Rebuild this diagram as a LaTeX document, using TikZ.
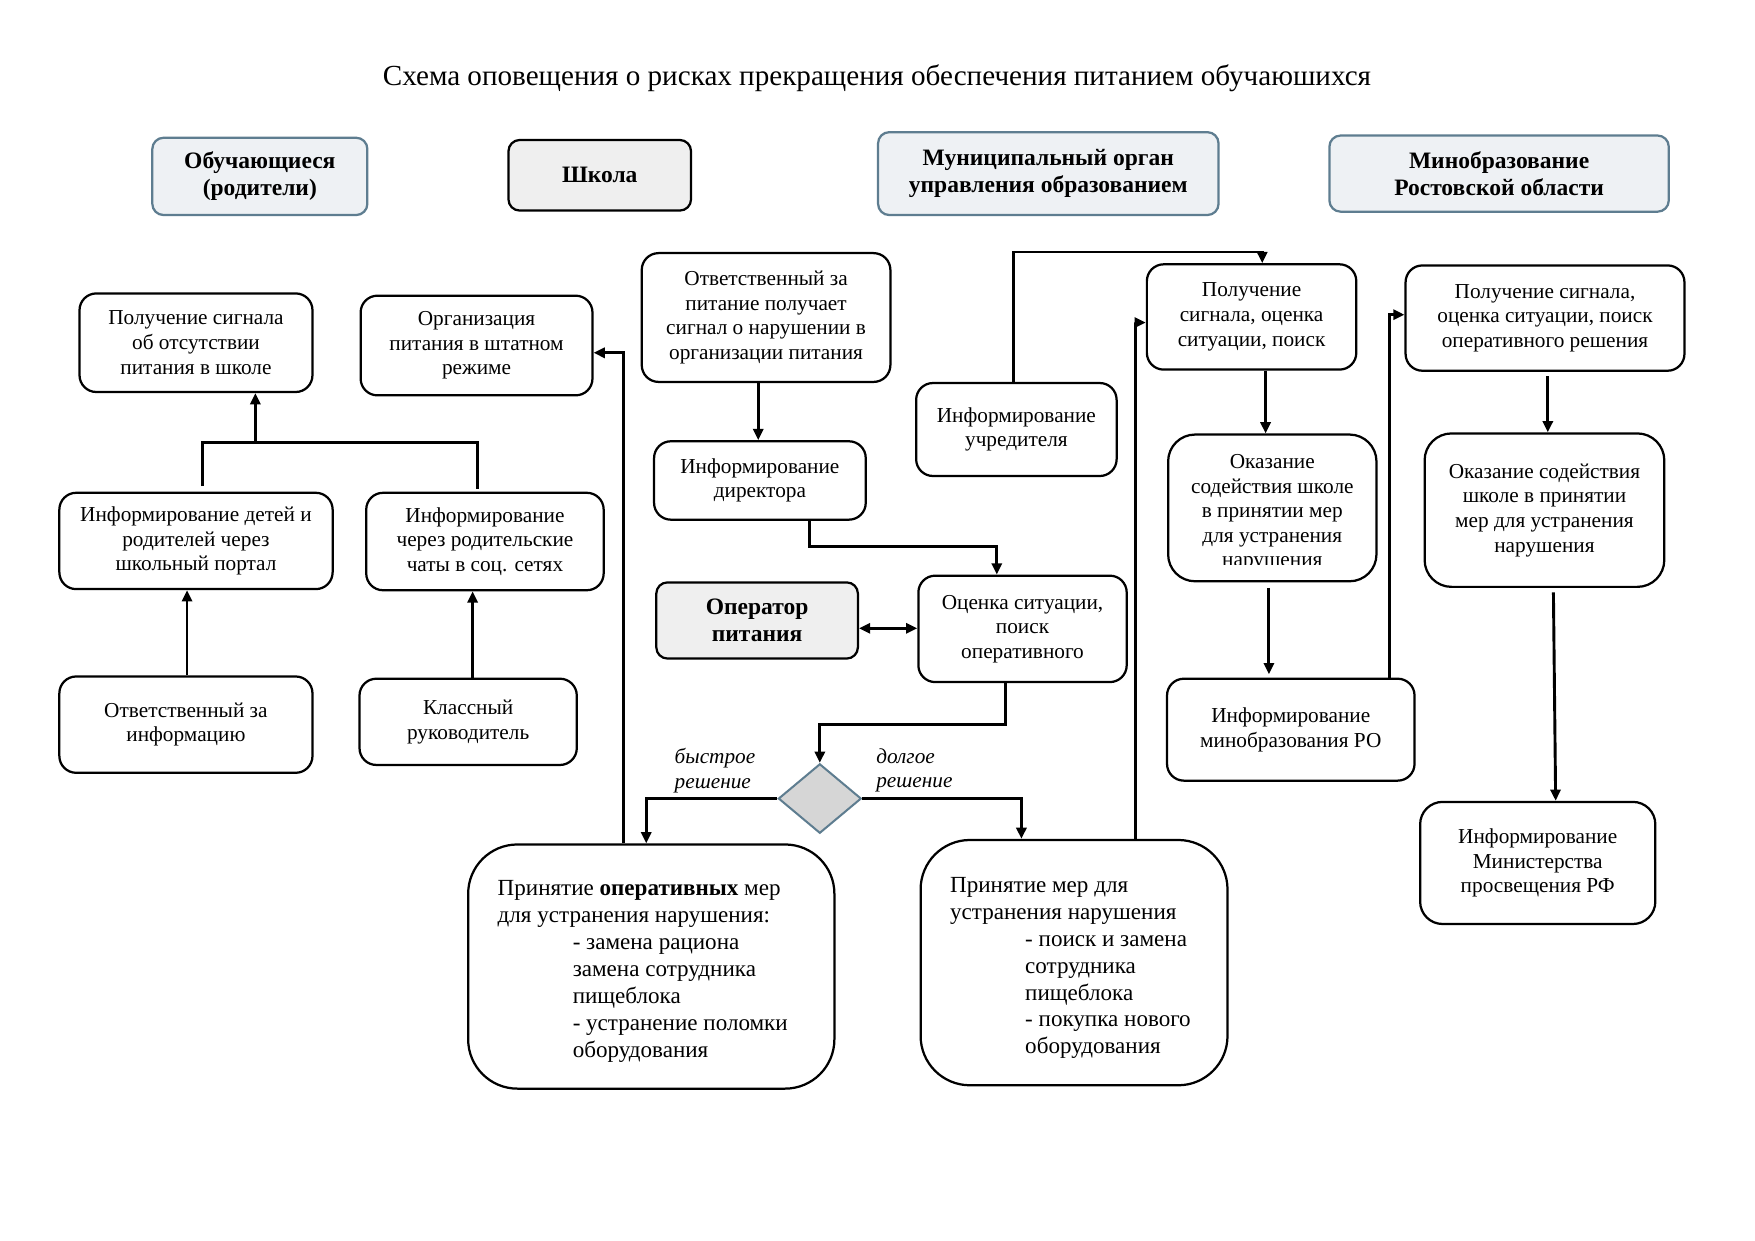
\documentclass[tikz,border=0pt]{standalone}
\usepackage{fontspec}
\setmainfont{Liberation Serif}
\usetikzlibrary{arrows.meta,shapes.geometric,calc}
\definecolor{hdrfill}{HTML}{EEF1F4}
\definecolor{hdrline}{HTML}{5E7D90}
\definecolor{grayfill}{HTML}{EFEFEF}
\definecolor{dmfill}{HTML}{D6D6D6}
\newcommand\bx[7][]{\node[box,#1,minimum width={(#5-#3)*0.5pt},minimum height={(#6-#4)*0.5pt}] (#2) at ({(#3+#5)/2},{(#4+#6)/2}) {#7};}
\begin{document}
\begin{tikzpicture}[x=0.5pt,y=-0.5pt,
  box/.style={draw, line width=1pt, rounded corners=7.5pt, align=center, inner sep=0pt, font=\fontsize{9.5}{11}\selectfont},
  hdr/.style={draw=hdrline, fill=hdrfill, rounded corners=5pt, font=\bfseries\fontsize{10.5}{12}\selectfont},
  gry/.style={draw=black, fill=grayfill, rounded corners=5pt, font=\bfseries\fontsize{10.5}{12}\selectfont},
  big/.style={rounded corners=22pt},
  txt/.style={inner sep=0pt, align=left, font=\fontsize{10.3}{12}\selectfont},
  lbl/.style={inner sep=0pt, align=left, font=\itshape\fontsize{9.5}{11}\selectfont},
  conn/.style={line width=1.3pt},
  tip/.tip={Triangle[length=5pt,width=4.5pt]},
  arr/.style={conn, -tip},
]
\useasboundingbox[fill=white] (0,0) rectangle (1567,1108);

\node[font=\fontsize{13}{15}\selectfont] (title) at (783,70) {Схема оповещения о рисках прекращения обеспечения питанием обучаюшихся};

% headers
\bx[hdr]{H1}{136}{123}{328}{192}{Обучающиеся\\(родители)}
\bx[gry]{H2}{454}{125}{617}{188}{Школа}
\bx[hdr]{H3}{784}{118}{1088}{192}{Муниципальный орган\\управления образованием}
\bx[hdr]{H4}{1187}{121}{1490}{189}{Минобразование\\Ростовской области}

% left column
\bx{A1}{71}{262}{279}{350}{Получение сигнала\\об отсутствии\\питания в школе}
\bx{A2}{322}{264}{529}{353}{Организация\\питания в штатном\\режиме}
\bx{B1}{53}{440}{297}{526}{Информирование детей и\\родителей через\\школьный портал}
\bx{B2}{327}{440}{539}{527}{Информирование\\через родительские\\чаты в соц. сетях}
\bx{C1}{53}{604}{279}{690}{Ответственный за\\информацию}
\bx{C2}{321}{606}{515}{683}{Классный\\руководитель}

% school column
\bx{M1}{573}{226}{795}{341}{Ответственный за\\питание получает\\сигнал о нарушении в\\организации питания}
\bx{M2}{584}{394}{773}{464}{Информирование\\директора}
\bx[gry]{Op}{586}{520}{766}{588}{Оператор\\питания}
\bx{M3}{820}{514}{1006}{609}{Оценка ситуации,\\поиск\\оперативного}
\node[diamond, draw=hdrline, fill=dmfill, line width=0.9pt, inner sep=0pt, aspect=1.19,
      minimum width=37pt, minimum height=31pt] (D) at (732,713) {};
\node[lbl, anchor=west] (fast) at (602,688) {быстрое\\решение};
\node[lbl, anchor=west] (slow) at (782,688) {долгое\\решение};
\bx[big]{L1}{418}{754}{745}{972}{}
\node[txt, anchor=north west] (L1t) at (444,786) {Принятие \textbf{оперативных} мер\\
для устранения нарушения:\\
\hspace*{33.5pt}- замена рациона\\
\hspace*{33.5pt}замена сотрудника\\
\hspace*{33.5pt}пищеблока\\
\hspace*{33.5pt}- устранение поломки\\
\hspace*{33.5pt}оборудования};
\bx[big]{L2}{822}{750}{1096}{969}{}
\node[txt, anchor=north west] (L2t) at (848,783) {Принятие мер для\\
устранения нарушения\\
\hspace*{33.5pt}- поиск и замена\\
\hspace*{33.5pt}сотрудника\\
\hspace*{33.5pt}пищеблока\\
\hspace*{33.5pt}- покупка нового\\
\hspace*{33.5pt}оборудования};

% municipal column
\bx{U1}{818}{342}{997}{425}{Информирование\\учредителя}
\bx{R1}{1024}{236}{1211}{330}{Получение\\сигнала, оценка\\ситуации, поиск}
\bx[rounded corners=12pt]{R2}{1043}{388}{1229}{519}{}
\begin{scope}
\clip (1043,388) rectangle (1229,504);
\node[inner sep=0pt, align=center, font=\fontsize{9.5}{11}\selectfont] (R2t) at (1136,458) {Оказание\\содействия школе\\в принятии мер\\для устранения\\нарушения};
\end{scope}
\bx{R3}{1042}{606}{1263}{697}{Информирование\\минобразования РО}

% minobr column
\bx{S1}{1255}{237}{1504}{331}{Получение сигнала,\\оценка ситуации, поиск\\оперативного решения}
\bx[rounded corners=12pt]{S2}{1272}{387}{1486}{524}{Оказание содействия\\школе в принятии\\мер для устранения\\нарушения}
\bx[rounded corners=10pt]{S3}{1268}{716}{1478}{825}{Информирование\\Министерства\\просвещения РФ}

% connectors left
\coordinate (jl) at (181,395);
\coordinate (jr) at (426,395);
\coordinate (jm) at (228,395);
\draw[arr] (167,0 |- C1.north) -- (167,0 |- B1.south);
\draw[arr] (422,0 |- C2.north) -- (422,0 |- B2.south);
\draw[conn] ($(181,0 |- B1.north)+(0,-5)$) -- (jl) -- (jr) -- ($(426,0 |- B2.north)+(0,-2)$);
\draw[arr] (jm) -- (228,0 |- A1.south);

% connectors school
\draw[arr] (677,0 |- M1.south) -- (677,0 |- M2.north);
\draw[arr] (723,0 |- M2.south) -- (723,488) -| (890,0 |- M3.north);
\draw[conn, tip-tip] (Op.east |- 0,561) -- (M3.west |- 0,561);
\draw[arr] (898,0 |- M3.south) -- (898,647) -| (D.north);
\draw[arr] (D.west) -| (577,0 |- L1.north);
\draw[arr] (D.east) -| (912,0 |- L2.north);
\draw[arr] (557,0 |- L1.north) |- (A2.east |- 0,315);
\draw[arr] (1014,0 |- L2.north) |- (R1.west |- 0,288);

% connectors municipal
\draw[arr] (905,0 |- U1.north) -- (905,225) -| (1127,0 |- R1.north);
\draw[arr] (1130,0 |- R1.south) -- (1130,0 |- R2.north);
\draw[arr] ($(1133,0 |- R2.south)+(0,5)$) -- ($(1133,0 |- R3.north)+(0,-3)$);
\draw[arr] (1241,0 |- R3.north) |- (S1.west |- 0,281);

% connectors minobr
\draw[arr] ($(1382,0 |- S1.south)+(0,4)$) -- (1382,0 |- S2.north);
\draw[arr] ($(1387,0 |- S2.south)+(0,4)$) -- (1389,0 |- S3.north);
\end{tikzpicture}
\end{document}
